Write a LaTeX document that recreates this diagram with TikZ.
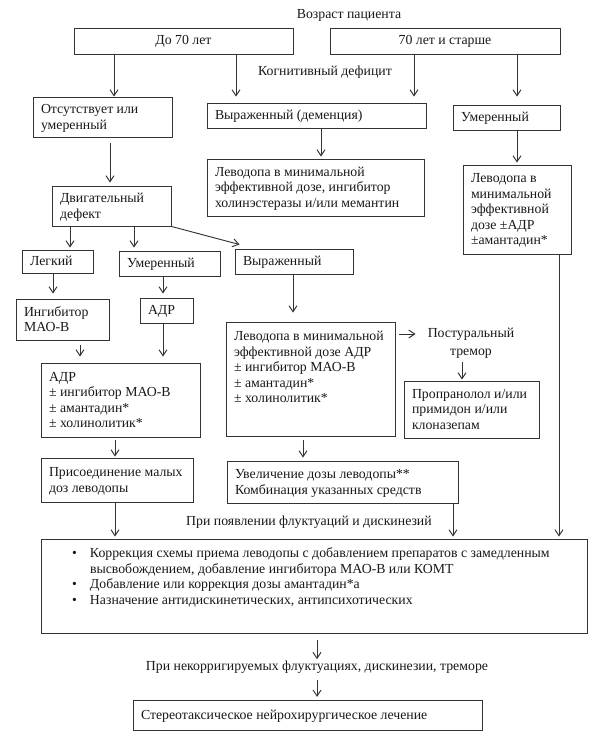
\documentclass[tikz,border=0pt]{standalone}
\usepackage{fontspec}
\setmainfont{Liberation Serif}
\usetikzlibrary{arrows.meta,calc}
\newcommand\bxvs{2pt}
\newcommand\bx[7][c]{%
  \pgfmathsetmacro\bxw{(#5-#3)*0.75-12}%
  \pgfmathsetmacro\bxh{(#6-#4)*0.75-6}%
  \node[box] (#2) at ({(#3+#5)/2},{(#4+#6)/2})
    {\parbox[c][\bxh pt][#1]{\bxw pt}{\raggedright\vspace*{\bxvs}\strut #7\strut}};%
}
\begin{document}
\begin{tikzpicture}[x=0.75pt,y=-0.75pt,
  font=\fontsize{10.35}{11.6}\selectfont,
  box/.style={draw=black!80,line width=0.7pt,inner xsep=6pt,inner ysep=3pt,text=black!90},
  cbox/.style={draw=black!80,line width=0.7pt,inner sep=0pt,text=black!90},
  txt/.style={inner sep=0pt,text=black!90},
  arr/.style={-{Straight Barb[length=4.5pt,width=6pt]},line width=0.7pt,draw=black!80}]
\fill[white] (0,0) rectangle (591,750);
\useasboundingbox (0,0) rectangle (591,750);

% texts
\node[txt] (age) at (349,15) {Возраст пациента};
\node[txt] (cog) at (325,72) {Когнитивный дефицит};
\node[txt,align=center] (trem) at (471,343) {Постуральный\\[1.9pt]тремор};
\node[txt] (fl) at (309,522) {При появлении флуктуаций и дискинезий};
\node[txt] (nk) at (317,667) {При некорригируемых флуктуациях, дискинезии, треморе};

% boxes
\node[cbox,minimum width=164.25pt,minimum height=19.5pt] (a70) at (183.5,41) {До 70 лет};
\node[cbox,minimum width=172.5pt,minimum height=19.5pt] (b70) at (445,41) {70 лет и старше};
\bx{abs}{33}{97}{172}{137}{Отсутствует или\\умеренный}
\bx{dem}{207}{103}{426}{128}{Выраженный (деменция)}
\bx{umr}{453}{105}{560}{130}{Умеренный}
\bx{ldem}{207}{159}{424}{216}{Леводопа в минимальной\\эффективной дозе, ингибитор\\холинэстеразы и/или мемантин}
\bx{lr}{463}{165}{571}{254}{Леводопа в\\минимальной\\эффективной\\дозе ±АДР\\±амантадин*}
\bx{mot}{52}{186}{171}{226}{Двигательный\\дефект}
\bx{leg}{22}{250}{93}{273}{Легкий}
\bx{umm}{119}{251}{220}{276}{Умеренный}
\bx{vyr}{235}{249}{353}{274}{Выраженный}
\bx{ing}{16}{299}{109}{340}{Ингибитор\\МАО-В}
\bx{adr}{140}{298}{193}{323}{АДР}
\bx{adrb}{41}{363}{200}{437}{АДР\\± ингибитор МАО-В\\± амантадин*\\± холинолитик*}
\renewcommand\bxvs{3pt}
\bx[t]{lmot}{226}{322}{395}{436}{Леводопа в минимальной\\эффективной дозе АДР\\± ингибитор МАО-В\\± амантадин*\\± холинолитик*}
\bx[t]{big}{41}{539}{587}{633}{\hspace*{17.25pt}\makebox[13.5pt][l]{•}Коррекция схемы приема леводопы с добавлением препаратов с замедленным\\
\hspace*{30.75pt}высвобождением, добавление ингибитора МАО-В или КОМТ\\
\hspace*{17.25pt}\makebox[13.5pt][l]{•}Добавление или коррекция дозы амантадин*а\\
\hspace*{17.25pt}\makebox[13.5pt][l]{•}Назначение антидискинетических, антипсихотических}
\renewcommand\bxvs{2pt}
\bx{prop}{404}{381}{539}{438}{Пропранолол и/или\\примидон и/или\\клоназепам}
\bx{pris}{41}{458}{193}{502}{Присоединение малых\\доз леводопы}
\bx{uvel}{227}{461}{458}{503}{Увеличение дозы леводопы**\\Комбинация указанных средств}
\bx{ster}{133}{700}{482}{730}{Стереотаксическое нейрохирургическое лечение}

% connectors
\draw[arr] (a70.south -| 114,0) -- (abs.north -| 114,0);
\draw[arr,shorten >=4.5pt] (a70.south -| 236,0) -- (dem.north -| 236,0);
\draw[arr,shorten >=4.5pt] (b70.south -| 414,0) -- (dem.north -| 414,0);
\draw[arr,shorten >=6pt] (b70.south -| 517,0) -- (umr.north -| 517,0);
\draw[arr,shorten <=4pt,shorten >=2.25pt] (abs.south -| 110,0) -- (mot.north -| 110,0);
\draw[arr,shorten >=1.5pt] (dem.south -| 321,0) -- (ldem.north -| 321,0);
\draw[arr,shorten >=1.5pt] (umr.south -| 517,0) -- (lr.north -| 517,0);
\draw[arr,shorten >=1.5pt] (mot.south -| 70,0) -- (leg.north -| 70,0);
\draw[arr,shorten >=2.25pt] (mot.south -| 134,0) -- (umm.north -| 134,0);
\draw[arr] (mot.south east) -- ($(vyr.north west)+(5,-4)$);
\draw[arr,shorten >=3.75pt] (leg.south -| 53,0) -- (ing.north -| 53,0);
\draw[arr,shorten >=3pt] (umm.south -| 163,0) -- (adr.north -| 163,0);
\draw[arr,shorten <=3.75pt,shorten >=4.5pt] (ing.south -| 80,0) -- (adrb.north -| 80,0);
\draw[arr,shorten >=4.5pt] (adr.south -| 163,0) -- (adrb.north -| 163,0);
\draw[arr,shorten >=6.75pt] (vyr.south -| 293,0) -- (lmot.north -| 293,0);
\draw[arr,shorten <=3pt,shorten >=9pt] (lmot.east |- 0,334) -- (trem.west |- 0,334);
\draw[arr,shorten <=3pt,shorten >=0.75pt] (trem.south -| 462,0) -- (prop.north -| 462,0);
\draw[arr,shorten <=2pt,shorten >=0.75pt] (adrb.south -| 115,0) -- (pris.north -| 115,0);
\draw[arr,shorten <=3pt,shorten >=2.25pt] (lmot.south -| 303,0) -- (uvel.north -| 303,0);
\draw[arr,shorten >=1.5pt] (pris.south -| 115,0) -- (big.north -| 115,0);
\draw[arr,shorten >=1.5pt] (uvel.south -| 453,0) -- (big.north -| 453,0);
\draw[arr,shorten >=1.5pt] (lr.south -| 559,0) -- (big.north -| 559,0);
\draw[arr,shorten <=5pt,shorten >=1pt] (big.south -| 317,0) -- (nk.north -| 317,0);
\draw[arr,shorten <=5pt,shorten >=2pt] (nk.south -| 317,0) -- (ster.north -| 317,0);
\end{tikzpicture}
\end{document}
